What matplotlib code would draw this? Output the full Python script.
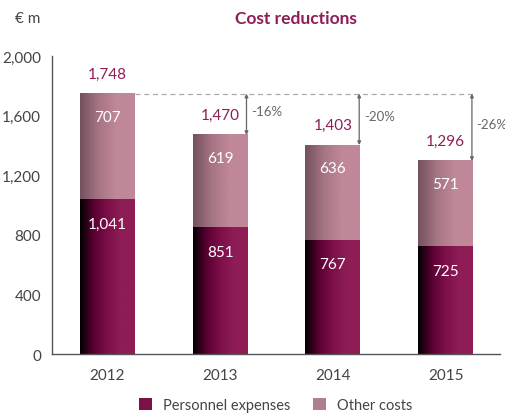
import numpy as np
import matplotlib.pyplot as plt
from matplotlib.colors import LinearSegmentedColormap
from matplotlib.patches import Patch

plt.rcParams['font.family'] = ['Lato', 'DejaVu Sans']

years = ['2012', '2013', '2014', '2015']
personnel = [1041, 851, 767, 725]
other = [707, 619, 636, 571]
totals = [1748, 1470, 1403, 1296]
changes = ['', '-16%', '-20%', '-26%']

c_title = '#8e1d56'
c_gray = '#555555'

cm_pers = LinearSegmentedColormap.from_list('p', ['#000000', '#5a0033', '#7c1048', '#8e1d56', '#8e1d56'])
cm_oth = LinearSegmentedColormap.from_list('o', ['#74505f', '#a57483', '#c08898', '#c08898'])

fig = plt.figure(figsize=(5.06, 4.14), dpi=100)
ax = fig.add_axes([0.103, 0.1425, 0.885, 0.7195])

x = np.arange(len(years))
w = 0.487
grad = np.linspace(0, 1, 256).reshape(1, -1)

for i in range(len(years)):
    x0 = x[i] - w / 2
    x1 = x[i] + w / 2
    ax.imshow(grad, cmap=cm_pers, extent=[x0, x1, 0, personnel[i]], aspect='auto', zorder=2)
    ax.imshow(grad, cmap=cm_oth, extent=[x0, x1, personnel[i], totals[i]], aspect='auto', zorder=2)
    ax.text(x[i], totals[i] + 134, f'{totals[i]:,}', ha='center', va='center', color=c_title, fontsize=11)
    ax.text(x[i], totals[i] - 155, f'{other[i]:,}', ha='center', va='center', color='white', fontsize=11)
    ax.text(x[i], personnel[i] - 165, f'{personnel[i]:,}', ha='center', va='center', color='white', fontsize=11)

# dashed reference line at 2012 level
ax.plot([x[0] + w / 2, x[3] + w / 2], [totals[0], totals[0]], ls=(0, (4, 3)), color='#aaaaaa', lw=0.9, zorder=1)

for i in range(1, len(years)):
    xa = x[i] + w / 2 - 0.01
    ax.annotate('', xy=(xa, totals[i]), xytext=(xa, totals[0]),
                arrowprops=dict(arrowstyle='<|-|>', color='#666666', lw=0.9, mutation_scale=5,
                                shrinkA=0, shrinkB=0))
    ax.text(xa + 0.04, (totals[0] + totals[i]) / 2 + 20, changes[i], ha='left', va='center',
            color='#666666', fontsize=9.5)

ax.set_xlim(-0.491, 3.482)
ax.set_ylim(0, 2000)
ax.set_yticks([0, 400, 800, 1200, 1600, 2000])
ax.set_yticklabels(['0', '400', '800', '1,200', '1,600', '2,000'])
ax.set_xticks(x)
ax.set_xticklabels(years)
ax.tick_params(length=0, colors='#444444', labelsize=11)
ax.tick_params(axis='x', pad=10)
ax.tick_params(axis='y', pad=8)
for s in ['top', 'right']:
    ax.spines[s].set_visible(False)
for s in ['left', 'bottom']:
    ax.spines[s].set_color(c_gray)
    ax.spines[s].set_linewidth(1)

fig.text(0.585, 0.955, 'Cost reductions', ha='center', va='center', color=c_title,
         fontsize=12.5, fontweight='bold')
fig.text(0.055, 0.955, '€ m', ha='center', va='center', color='#444444', fontsize=11)

handles = [Patch(facecolor='#7c1048'), Patch(facecolor='#b07f8f')]
fig.legend(handles, ['Personnel expenses', 'Other costs'], loc='center', bbox_to_anchor=(0.545, 0.02),
           ncol=2, frameon=False, fontsize=10.5, handlelength=0.9, handleheight=0.9,
           handletextpad=0.8, columnspacing=1.5, labelcolor='#444444')

fig.savefig('out.png', dpi=100)
